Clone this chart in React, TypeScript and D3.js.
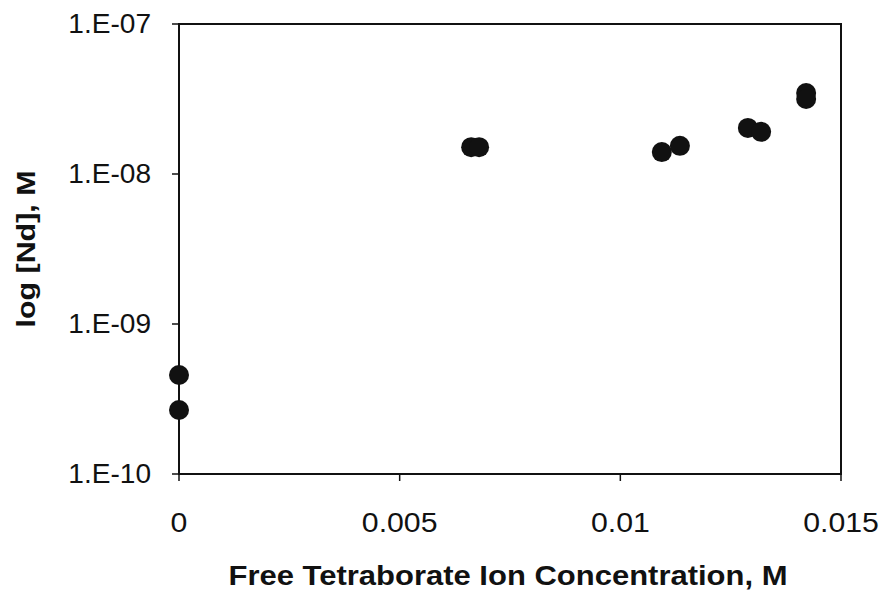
import React from "react";
import * as d3 from "d3";

const xValues = [0, 0, 0.00662, 0.0068, 0.01094, 0.01135, 0.01289, 0.01319, 0.01421, 0.01421];
const yValues = [4.57e-10, 2.67e-10, 1.51e-8, 1.51e-8, 1.4e-8, 1.54e-8, 2.03e-8, 1.91e-8, 3.47e-8, 3.16e-8];
const xTicks = [0, 0.005, 0.01, 0.015];
const xTickLabels = ["0", "0.005", "0.01", "0.015"];
const yTicks = [1e-7, 1e-8, 1e-9, 1e-10];
const yTickLabels = ["1.E-07", "1.E-08", "1.E-09", "1.E-10"];
const xTitle = "Free Tetraborate Ion Concentration, M";
const yTitle = "log [Nd], M";

const W = 882;
const H = 590;
const L = 179, R = 841, T = 24, B = 474;

export default function App() {
  const x = d3.scaleLinear().domain([0, 0.015]).range([L, R]);
  const y = d3.scaleLog().domain([1e-10, 1e-7]).range([B, T]);
  const font = "'Liberation Sans', Arial, sans-serif";
  const pts = xValues.map((v, i) => ({ x: v, y: yValues[i] }));
  return (
    <svg width={W} height={H} style={{ position: "absolute", left: 0, top: 0, background: "#fff" }}>
      <rect x={0} y={0} width={W} height={H} fill="#fff" />
      <rect x={L} y={T} width={R - L} height={B - T} fill="none" stroke="#111" strokeWidth={2} />
      {yTicks.map((t, i) => (
        <g key={"y" + i}>
          <line x1={L - 7} x2={L} y1={y(t)} y2={y(t)} stroke="#111" strokeWidth={1.5} />
          <text
            transform={`translate(151, ${y(t) + 9}) scale(1.04, 1)`}
            textAnchor="end"
            fontFamily={font}
            fontSize={27}
            fill="#111"
          >
            {yTickLabels[i]}
          </text>
        </g>
      ))}
      {xTicks.map((t, i) => (
        <g key={"x" + i}>
          <line x1={x(t)} x2={x(t)} y1={B} y2={B + 7} stroke="#111" strokeWidth={1.5} />
          <text
            transform={`translate(${x(t)}, 532) scale(1.08, 1)`}
            textAnchor="middle"
            fontFamily={font}
            fontSize={28}
            fill="#111"
          >
            {xTickLabels[i]}
          </text>
        </g>
      ))}
      {pts.map((p, i) => (
        <circle key={"p" + i} cx={x(p.x)} cy={y(p.y)} r={10} fill="#111" />
      ))}
      <text
        x={(L + R) / 2 - 2}
        y={585}
        textAnchor="middle"
        fontFamily={font}
        fontSize={27}
        fontWeight="bold"
        fill="#111"
        textLength={559}
        lengthAdjust="spacingAndGlyphs"
      >
        {xTitle}
      </text>
      <text
        transform={`translate(35, 249) rotate(-90)`}
        textAnchor="middle"
        fontFamily={font}
        fontSize={26}
        fontWeight="bold"
        fill="#111"
        textLength={157}
        lengthAdjust="spacingAndGlyphs"
      >
        {yTitle}
      </text>
    </svg>
  );
}
